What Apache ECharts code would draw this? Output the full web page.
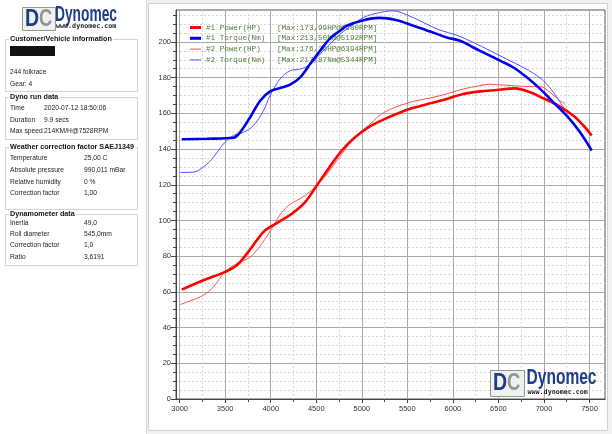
<!DOCTYPE html>
<html><head><meta charset="utf-8">
<script src="https://cdn.jsdelivr.net/npm/echarts@6/dist/echarts.min.js"></script>
<style>html,body{margin:0;padding:0;background:#f2f2f2}#c{width:612px;height:434px}</style>
</head><body><div id="c"></div>
<script>
// ---- data (rpm, value) ----
const seriesNames = ['#1 Power(HP)', '#1 Torque(Nm)', '#2 Power(HP)', '#2 Torque(Nm)'];
const maxTexts = ['[Max:173,99HP@6680RPM]', '[Max:213,50Nm@5192RPM]', '[Max:176,26HP@6394RPM]', '[Max:217,87Nm@5344RPM]'];
const power1 = [[3024,61.3],[3261,66.5],[3499,71.2],[3628,74.9],[3738,81.4],[3847,88.9],[3939,94.5],[4085,99.1],[4232,103.8],[4378,110.3],[4506,119.6],[4633,129.0],[4780,139.2],[4926,146.6],[5072,152.2],[5255,156.9],[5475,161.6],[5566,163.1],[5750,165.6],[5933,168.1],[6115,170.9],[6298,172.3],[6481,173.1],[6680,174.0],[6847,171.8],[6994,168.4],[7140,164.9],[7323,158.7],[7433,153.2],[7524,147.6]];
const torque1 = [[3024,145.5],[3300,145.8],[3590,146.3],[3664,149.4],[3774,157.8],[3884,167.1],[3993,172.3],[4103,174.2],[4213,176.1],[4323,180.2],[4432,187.6],[4542,195.1],[4652,202.0],[4762,206.3],[4835,209.1],[5018,212.2],[5192,213.5],[5384,212.2],[5566,209.1],[5750,205.9],[5933,202.5],[6079,200.7],[6225,196.9],[6372,193.2],[6518,189.5],[6664,185.7],[6811,180.2],[6957,173.7],[7103,166.2],[7250,158.7],[7396,149.4],[7524,139.2]];
const power2 = [[3005,52.9],[3134,55.3],[3261,58.1],[3371,62.8],[3499,71.2],[3628,75.9],[3774,79.5],[3902,87.0],[4030,97.0],[4100,103.0],[4195,108.4],[4378,114.0],[4506,119.6],[4633,127.1],[4780,137.3],[4926,146.6],[5072,153.2],[5219,159.7],[5365,163.4],[5475,165.3],[5566,166.7],[5750,168.6],[5933,170.9],[6115,173.7],[6298,175.5],[6394,176.3],[6481,176.1],[6664,175.5],[6847,175.0],[6957,175.0],[7067,171.8],[7176,167.1],[7231,165.6]];
const torque2 = [[3005,126.9],[3151,127.1],[3261,129.9],[3371,135.4],[3481,142.9],[3590,147.6],[3700,149.4],[3810,153.2],[3920,161.5],[3993,169.9],[4103,179.3],[4213,183.9],[4323,184.8],[4432,187.3],[4542,193.2],[4652,198.8],[4762,204.4],[4835,207.2],[5018,213.7],[5201,216.5],[5344,217.4],[5494,215.2],[5676,210.9],[5859,206.6],[6042,203.8],[6225,199.7],[6408,195.1],[6591,190.4],[6774,185.7],[6884,182.4],[6994,178.3],[7103,171.8],[7213,163.4]];
const xMajor = [3000,3500,4000,4500,5000,5500,6000,6500,7000,7500];
const xMinor = [3250,3750,4250,4750,5250,5750,6250,6750,7250];
const yMajor = [0,20,40,60,80,100,120,140,160,180,200];
const yMinor = [5,10,15,25,30,35,45,50,55,65,70,75,85,90,95,105,110,115,125,130,135,145,150,155,165,170,175,185,190,195,205,210,215];

// ---- info panel texts ----
const infoBoxes = [
  {title:'Customer/Vehicle information', rows:[['244 folkrace',''],['Gear: 4','']]},
  {title:'Dyno run data', rows:[['Time','2020-07-12 18:50:06'],['Duration','9.9 secs'],['Max speed','214KM/H@7528RPM']]},
  {title:'Weather correction factor SAEJ1349', rows:[['Temperature','25,00 C'],['Absolute pressure','990,011 mBar'],['Relative humidity','0 %'],['Correction factor','1,00']]},
  {title:'Dynamometer data', rows:[['Inertia','49,0'],['Roll diameter','545,0mm'],['Correction factor','1,0'],['Ratio','3,6191']]}
];
const logoWord = 'Dynomec';
const logoUrl = 'www.dynomec.com';

const chart = echarts.init(document.getElementById('c'));
const SANS = '"Liberation Sans", Arial, sans-serif';
const MONO = '"Liberation Mono", "Courier New", monospace';

function T(x, y, text, font, fill, extraStyle, props) {
  const el = {type:'text', x:x, y:y, z:100, silent:true,
    style:Object.assign({text:text, font:font, fill:fill || '#222',
      textVerticalAlign:'middle', verticalAlign:'middle', textAlign:'left', align:'left'}, extraStyle || {})};
  return Object.assign(el, props || {});
}
function R(x, y, w, h, style, z) {
  return {type:'rect', z: z == null ? 50 : z, silent:true, shape:{x:x, y:y, width:w, height:h}, style:style};
}

const graphics = [];
// page panels
graphics.push(R(0, 0, 146, 434, {fill:'#ffffff'}, -100));
graphics.push(R(148.5, 3.5, 459, 427, {fill:'#ffffff', stroke:'#d2d2d2', lineWidth:1}, -100));
graphics.push({type:'line', z:-90, silent:true, shape:{x1:146.5, y1:0, x2:146.5, y2:434}, style:{stroke:'#d6d6d6', lineWidth:1}});

// logos
function logo(bx, by, bw, bh, tx, wordW, urlY) {
  graphics.push(R(bx + 0.5, by + 0.5, bw, bh, {fill:'#eef1ee', stroke:'#8e9a8e', lineWidth:1}, 90));
  graphics.push(T(bx + 3, by + bh / 2 + 1, 'D', 'bold 23px ' + SANS, '#1e3d86', null, {scaleX:0.85}));
  graphics.push(T(bx + 17, by + bh / 2 + 1, 'C', 'bold 23px ' + SANS, '#8f9696', null, {scaleX:0.8}));
  graphics.push(T(tx, by + 7.5, logoWord, 'bold 22px ' + SANS, '#1e3d86', null, {scaleX: wordW / 99}));
  graphics.push(T(tx + 1, urlY, logoUrl, 'bold 6.7px "DejaVu Sans Mono", monospace', '#1a1a1a'));
}
logo(22, 7, 33, 23, 55, 62, 26);
logo(490, 370, 34, 26, 526.5, 70, 392.5);

// info group boxes
const boxGeom = [
  {top:39, bottom:91, rowY:[72, 84], valX:0},
  {top:97, bottom:139, rowY:[108, 120, 131], valX:44},
  {top:147, bottom:209, rowY:[158.3, 170, 181.7, 193.3], valX:84},
  {top:214, bottom:265, rowY:[223, 234.5, 245.5, 257], valX:84}
];
infoBoxes.forEach(function (b, i) {
  const g = boxGeom[i];
  graphics.push(R(5.5, g.top + 0.5, 132, g.bottom - g.top, {fill:'none', stroke:'#d4d4d4', lineWidth:1}, 60));
  graphics.push(T(9, g.top + 0.5, b.title, 'bold 7.2px ' + SANS, '#111', {backgroundColor:'#ffffff', padding:[0, 1]}));
  b.rows.forEach(function (r, j) {
    graphics.push(T(10, g.rowY[j], r[0], '6.7px ' + SANS, '#222'));
    if (r[1]) graphics.push(T(g.valX, g.rowY[j], r[1], '6.7px ' + SANS, '#222'));
  });
});
graphics.push(R(10, 46, 45, 10, {fill:'#111111'}, 70));

const lineStyles = [
  {color:'#ff0000', width:2.6},
  {color:'#0000ee', width:2.6},
  {color:'#ff5050', width:1},
  {color:'#5050ff', width:1}
];
const datasets = [power1, torque1, power2, torque2];
const maxMap = {};
seriesNames.forEach(function (n, i) { maxMap[n] = maxTexts[i]; });

const legendText = {fontFamily:MONO, fontSize:7.6, color:'#4d7d38',
  rich:{a:{width:71, height:10, fontFamily:MONO, fontSize:7.6, color:'#4d7d38', lineHeight:10},
        b:{height:10, fontFamily:MONO, fontSize:7.6, color:'#4d7d38', lineHeight:10}}};
function legendFmt(name) { return '{a|' + name + '}{b|' + maxMap[name] + '}'; }
const legendCenters = [27.5, 38.3, 49.1, 59.9];

const option = {
  backgroundColor:'#f2f2f2',
  animation:false,
  graphic:{elements:graphics},
  grid:{left:176, top:10, right:7, bottom:35, show:true, backgroundColor:'#ffffff', borderColor:'#555', borderWidth:1},
  legend: seriesNames.map(function (n, i) {
    return {left:190, top:legendCenters[i] - 5, orient:'vertical', padding:0, itemWidth:11,
      itemHeight: i < 2 ? 3 : 1, selectedMode:false, icon:'rect', data:[n],
      formatter:legendFmt, textStyle:legendText};
  }),
  xAxis:[
    {type:'value', min:2960, max:7670, position:'bottom',
      axisLine:{show:true, onZero:false, lineStyle:{color:'#444', width:1}},
      axisTick:{show:true, customValues:xMajor, length:4, lineStyle:{color:'#444'}},
      axisLabel:{customValues:xMajor, fontSize:7.5, fontFamily:SANS, color:'#333', margin:6,
        formatter:function (v) { return String(v); }},
      splitLine:{show:true, lineStyle:{color:'#a9a9a9', width:1}}},
    {type:'value', min:2960, max:7670, position:'bottom',
      axisLine:{show:false},
      axisTick:{show:true, customValues:xMinor, length:3, lineStyle:{color:'#444'}},
      axisLabel:{show:false},
      splitLine:{show:true, lineStyle:{color:'#d6d6d6', width:1, type:[2, 2]}}}
  ],
  yAxis:[
    {type:'value', min:0, max:217.9, position:'left',
      axisLine:{show:true, onZero:false, lineStyle:{color:'#444', width:1}},
      axisTick:{show:true, customValues:yMajor, length:5, lineStyle:{color:'#444'}},
      axisLabel:{customValues:yMajor, fontSize:7.5, fontFamily:SANS, color:'#333', margin:5,
        formatter:function (v) { return String(v); }},
      splitLine:{show:true, lineStyle:{color:'#a9a9a9', width:1}}},
    {type:'value', min:0, max:217.9, position:'left',
      axisLine:{show:false},
      axisTick:{show:true, customValues:yMinor, length:3, lineStyle:{color:'#444'}},
      axisLabel:{show:false},
      splitLine:{show:true, lineStyle:{color:'#d6d6d6', width:1, type:[2, 2]}}}
  ],
  series: seriesNames.map(function (n, i) {
    return {name:n, type:'line', xAxisIndex:0, yAxisIndex:0, data:datasets[i], smooth:0.35,
      symbol:'none', showSymbol:false, lineStyle:lineStyles[i], itemStyle:{color:lineStyles[i].color},
      z: i < 2 ? 4 : 3};
  })
};
chart.setOption(option);
</script></body></html>
